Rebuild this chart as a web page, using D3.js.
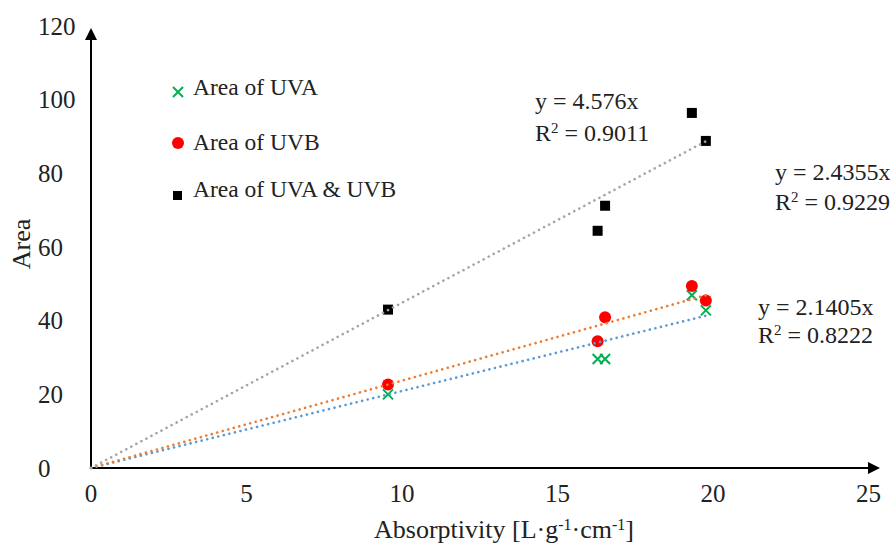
<!DOCTYPE html>
<html>
<head>
<meta charset="utf-8">
<script src="https://cdn.jsdelivr.net/npm/d3@7"></script>
<style>
  body { margin: 0; background: #fff; }
  svg text { font-family: "Times New Roman", "Liberation Serif", Times, serif; fill: #222; }
</style>
</head>
<body>
<div id="chart"></div>
<script>
// chart size
var w = 892;
var h = 548;

// absorptivity of the five samples
var absorptivity = [9.55, 16.29, 16.53, 19.32, 19.77];
// peak areas
var areaUVA = [20.0, 29.6, 29.6, 46.9, 42.8];
var areaUVB = [22.7, 34.4, 40.9, 49.4, 45.5];
var areaBoth = [43.0, 64.4, 71.2, 96.4, 88.8];

var xTicks = [0, 5, 10, 15, 20, 25];
var yTicks = [0, 20, 40, 60, 80, 100, 120];

var legendNames = ["Area of UVA", "Area of UVB", "Area of UVA & UVB"];
var eqLabels = [
    ["y = 2.1405x", "0.8222"],
    ["y = 2.4355x", "0.9229"],
    ["y = 4.576x", "0.9011"]
];

var x = d3.scaleLinear().domain([0, 25]).range([91, 868.5]);
var y = d3.scaleLinear().domain([0, 120]).range([468, 26]);

var svg = d3.select("#chart")
    .append("svg")
    .attr("width", w)
    .attr("height", h)
    .attr("font-family", "'Liberation Serif', 'Times New Roman', serif");

// axes with arrow heads
svg.append("line")
    .attr("x1", x(0)).attr("y1", y(0))
    .attr("x2", 874).attr("y2", y(0))
    .attr("stroke", "#000").attr("stroke-width", 2);
svg.append("path")
    .attr("d", "M880," + y(0) + " L868," + (y(0) - 6) + " L868," + (y(0) + 6) + "Z")
    .attr("fill", "#000");
svg.append("line")
    .attr("x1", x(0)).attr("y1", y(0))
    .attr("x2", x(0)).attr("y2", 36)
    .attr("stroke", "#000").attr("stroke-width", 2);
svg.append("path")
    .attr("d", "M" + x(0) + ",28 L" + (x(0) - 6) + ",40 L" + (x(0) + 6) + ",40Z")
    .attr("fill", "#000");

// tick labels
svg.selectAll(".xt")
    .data(xTicks)
    .enter()
    .append("text")
    .attr("x", function(d) { return x(d); })
    .attr("y", 502)
    .attr("text-anchor", "middle")
    .style("font-size", "25px")
    .text(function(d) { return d; });

svg.selectAll(".yt")
    .data(yTicks)
    .enter()
    .append("text")
    .attr("x", 38)
    .attr("y", function(d) { return y(d); })
    .attr("dy", "0.35em")
    .style("font-size", "25px")
    .text(function(d) { return d; });

// axis titles
var xt = svg.append("text")
    .attr("x", 504).attr("y", 538)
    .attr("text-anchor", "middle")
    .style("font-size", "26px");
xt.append("tspan").text("Absorptivity [L·g");
xt.append("tspan").attr("baseline-shift", "super").style("font-size", "16px").text("-1");
xt.append("tspan").text("·cm");
xt.append("tspan").attr("baseline-shift", "super").style("font-size", "16px").text("-1");
xt.append("tspan").text("]");

svg.append("text")
    .attr("transform", "translate(30,244) rotate(-90)")
    .attr("text-anchor", "middle")
    .style("font-size", "26px")
    .text("Area");

// least-squares slope through the origin, like the trendline option
function slope(ys) {
    var sxy = d3.sum(absorptivity, function(v, i) { return v * ys[i]; });
    var sxx = d3.sum(absorptivity, function(v) { return v * v; });
    return sxy / sxx;
}

var xMax = d3.max(absorptivity);
var points = function(ys) {
    return absorptivity.map(function(v, i) { return [v, ys[i]]; });
};

// UVA markers (green crosses)
svg.selectAll(".uva")
    .data(points(areaUVA))
    .enter()
    .append("path")
    .attr("d", function(d) {
        var cx = x(d[0]), cy = y(d[1]), s = 5;
        return "M" + (cx - s) + "," + (cy - s) + "L" + (cx + s) + "," + (cy + s) +
               "M" + (cx - s) + "," + (cy + s) + "L" + (cx + s) + "," + (cy - s);
    })
    .attr("stroke", "#00B050").attr("stroke-width", 2).attr("fill", "none");

// UVB markers (red dots)
svg.selectAll(".uvb")
    .data(points(areaUVB))
    .enter()
    .append("circle")
    .attr("cx", function(d) { return x(d[0]); })
    .attr("cy", function(d) { return y(d[1]); })
    .attr("r", 6)
    .style("fill", "#FF0000");

// UVA & UVB markers (black squares)
svg.selectAll(".both")
    .data(points(areaBoth))
    .enter()
    .append("rect")
    .attr("x", function(d) { return x(d[0]) - 5; })
    .attr("y", function(d) { return y(d[1]) - 5; })
    .attr("width", 10).attr("height", 10)
    .style("fill", "#000");

// dotted trendlines drawn on top of the markers
var trends = [
    { ys: areaUVA, color: "#5B9BD5" },
    { ys: areaUVB, color: "#ED7D31" },
    { ys: areaBoth, color: "#A5A5A5" }
];
trends.forEach(function(t) {
    var k = slope(t.ys);
    svg.append("line")
        .attr("x1", x(0)).attr("y1", y(0))
        .attr("x2", x(xMax)).attr("y2", y(k * xMax))
        .attr("stroke", t.color)
        .attr("stroke-width", 2.6)
        .attr("stroke-linecap", "round")
        .attr("stroke-dasharray", "0.1 5.6");
});

// legend
var lg = [92, 143, 195];
svg.append("path")
    .attr("d", "M173,87L183,97M173,97L183,87")
    .attr("stroke", "#00B050").attr("stroke-width", 2).attr("fill", "none");
svg.append("circle").attr("cx", 178).attr("cy", lg[1]).attr("r", 6).style("fill", "#FF0000");
svg.append("rect").attr("x", 173).attr("y", lg[2] - 4).attr("width", 9).attr("height", 9).style("fill", "#000");
svg.selectAll(".lg")
    .data(legendNames)
    .enter()
    .append("text")
    .attr("x", 193)
    .attr("y", function(d, i) { return [95, 150, 197][i]; })
    .style("font-size", "23.5px")
    .text(function(d) { return d; });

// equation labels
var eqPos = [[758, 315, 343], [775, 180, 210], [535, 109, 141]];
eqLabels.forEach(function(e, i) {
    var p = eqPos[i];
    svg.append("text").attr("x", p[0]).attr("y", p[1])
        .style("font-size", "24px").text(e[0]);
    var r = svg.append("text").attr("x", p[0]).attr("y", p[2]).style("font-size", "24px");
    r.append("tspan").text("R");
    r.append("tspan").attr("baseline-shift", "super").style("font-size", "15px").text("2");
    r.append("tspan").text(" = " + e[1]);
});
</script>
</body>
</html>
